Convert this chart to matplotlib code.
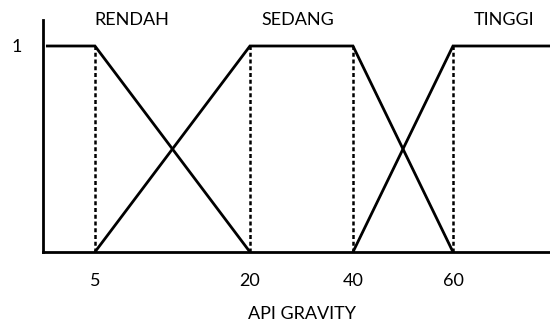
import matplotlib
matplotlib.use('Agg')
import matplotlib.pyplot as plt
import numpy as np

plt.rcParams['font.family'] = ['Lato', 'DejaVu Sans']

# membership functions (API gravity)
rendah_x = [0, 5, 20]
rendah_y = [1, 1, 0]
sedang_x = [5, 20, 40, 60]
sedang_y = [0, 1, 1, 0]
tinggi_x = [40, 60, 80]
tinggi_y = [0, 1, 1]
breaks = [5, 20, 40, 60]
tick_labels = ['5', '20', '40', '60']
set_names = ['RENDAH', 'SEDANG', 'TINGGI']

# the original axis is not to scale, so use a piecewise-linear scale
nodes_val = [-1, 0, 5, 20, 40, 60, 80]
nodes_px = [36.2, 46, 95, 250, 353, 453, 550]

def fwd(v):
    return np.interp(v, nodes_val, nodes_px)

def inv(p):
    return np.interp(p, nodes_px, nodes_val)

fig = plt.figure(figsize=(5.5, 3.25), dpi=100)
ax = fig.add_axes([43 / 550, (325 - 252) / 325, 507 / 550, 232 / 325])
ax.set_xscale('function', functions=(fwd, inv))
ax.set_xlim(-0.3, 80)
ax.set_ylim(0, 232 / 206)

lw = 2
for xs, ys in [(rendah_x, rendah_y), (sedang_x, sedang_y), (tinggi_x, tinggi_y)]:
    ax.plot(xs, ys, color='black', lw=lw, solid_joinstyle='miter',
            solid_capstyle='butt', clip_on=False)

for b in breaks:
    ax.plot([b, b], [0, 1], color='black', lw=1.8, linestyle=(0, (1.6, 1.1)))

for spine in ['top', 'right']:
    ax.spines[spine].set_visible(False)
ax.spines['left'].set_linewidth(lw)
ax.spines['bottom'].set_linewidth(lw)

ax.set_xticks(breaks)
ax.set_xticklabels(tick_labels)
ax.xaxis.set_minor_locator(matplotlib.ticker.NullLocator())
ax.set_yticks([1])
ax.set_yticklabels(['1'])
ax.tick_params(axis='x', length=0, pad=15, labelsize=13)
ax.tick_params(axis='y', length=0, pad=15, labelsize=13)

name_pos = [8.6, 29.3, 70.5]
for name, xp in zip(set_names, name_pos):
    ax.text(xp, 232 / 206, name, ha='center', va='center', fontsize=13, clip_on=False)

ax.set_xlabel('API GRAVITY', fontsize=13)
ax.xaxis.set_label_coords((302 - 43) / 507, (252 - 314) / 232)
ax.xaxis.label.set_va('center')

fig.savefig('out.png', dpi=100)
